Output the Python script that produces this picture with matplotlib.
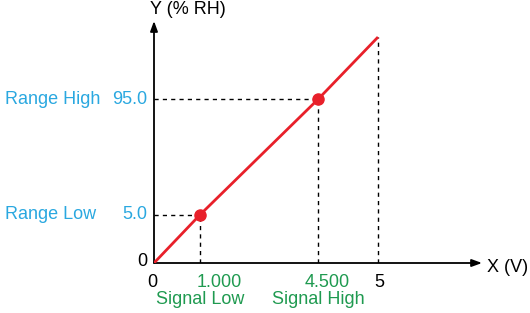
import numpy as np
import matplotlib
matplotlib.use("Agg")
import matplotlib.pyplot as plt

plt.rcParams['font.family'] = ['Liberation Sans', 'DejaVu Sans']

# ---- data ----
signal_v = [0.0, 1.0, 4.5, 5.0]          # X (V)
rh_pct = [0.0, 5.0, 95.0, 100.0]         # Y (% RH)
signal_low, signal_high = 1.0, 4.5
range_low, range_high = 5.0, 95.0
x_max_label = 5
x_tick_texts = ["1.000", "4.500"]
x_tick_names = ["Signal Low", "Signal High"]
y_tick_texts = ["5.0", "95.0"]
y_tick_names = ["Range Low", "Range High"]

# ---- schematic (piecewise-linear) scales ----
XK = [0.0, 1.0, 4.5, 5.0, 6.5]
XP = [0.0, 46.0, 164.0, 224.0, 328.0]
YK = [0.0, 5.0, 95.0, 100.0, 120.0]
YP = [0.0, 48.0, 163.0, 225.0, 241.0]

def fx(x): return np.interp(x, XK, XP)
def ix(p): return np.interp(p, XP, XK)
def fy(y): return np.interp(y, YK, YP)
def iy(p): return np.interp(p, YP, YK)

W, H = 530, 313
fig = plt.figure(figsize=(W / 100, H / 100), dpi=100)
ox, oy = 154, 263
ax = fig.add_axes([ox / W, (H - oy) / H, 328 / W, 242 / H])
ax.set_xscale('function', functions=(fx, ix))
ax.set_yscale('function', functions=(fy, iy))
ax.set_xlim(XK[0], XK[-1])
ax.set_ylim(YK[0], YK[-1])
for s in ax.spines.values():
    s.set_visible(False)
ax.set_xticks([])
ax.set_yticks([])
ax.patch.set_alpha(0)

# axes arrows
arrow = dict(arrowstyle='-|>,head_length=0.6,head_width=0.22', color='black', lw=1.3,
             shrinkA=0, shrinkB=0)
ax.annotate('', xy=(1, 0), xytext=(0, 0), xycoords='axes fraction', arrowprops=arrow)
ax.annotate('', xy=(0, 1), xytext=(0, 0), xycoords='axes fraction', arrowprops=arrow)

# dashed guides
dash = dict(color='black', lw=1.0, linestyle=(0, (3, 3)))
ax.plot([0, signal_low], [range_low, range_low], **dash)
ax.plot([0, signal_high], [range_high, range_high], **dash)
ax.plot([signal_low, signal_low], [0, range_low], **dash)
ax.plot([signal_high, signal_high], [0, range_high], **dash)
ax.plot([signal_v[-1], signal_v[-1]], [0, rh_pct[-1]], **dash)

# red transfer line and points
red = '#E8202A'
ax.plot(signal_v, rh_pct, color=red, lw=2.0, solid_capstyle='butt', zorder=3)
ax.plot([signal_low, signal_high], [range_low, range_high], 'o', color=red,
        ms=8, zorder=4)

blue = '#2AA8E0'
green = '#1F9A50'
fs = 13

# y labels
for v, t, n in zip([range_low, range_high], y_tick_texts, y_tick_names):
    ax.annotate(t, xy=(0, v), xytext=(-7, 0), textcoords='offset pixels',
                ha='right', va='center', color=blue, fontsize=fs)
    ax.annotate(n, xy=(0, v), xytext=(-149, 0), textcoords='offset pixels',
                ha='left', va='center', color=blue, fontsize=fs)
ax.annotate('0', xy=(0, 0), xytext=(-7, 1), textcoords='offset pixels',
            ha='right', va='center', color='black', fontsize=fs)

# x labels
ax.annotate('0', xy=(0, 0), xytext=(-2, -11), textcoords='offset pixels',
            ha='center', va='top', color='black', fontsize=fs)
for v, t, n, dx in zip([signal_low, signal_high], x_tick_texts, x_tick_names, [19, 9]):
    ax.annotate(t, xy=(v, 0), xytext=(dx, -11), textcoords='offset pixels',
                ha='center', va='top', color=green, fontsize=fs)
    ax.annotate(n, xy=(v, 0), xytext=(0, -28), textcoords='offset pixels',
                ha='center', va='top', color=green, fontsize=fs)
ax.annotate(str(x_max_label), xy=(x_max_label, 0), xytext=(1, -11),
            textcoords='offset pixels', ha='center', va='top', color='black', fontsize=fs)

# axis titles
ax.annotate('X (V)', xy=(1, 0), xycoords='axes fraction', xytext=(5, -4),
            textcoords='offset pixels', ha='left', va='center', fontsize=fs)
ax.annotate('Y (% RH)', xy=(0, 1), xycoords='axes fraction', xytext=(34, 3),
            textcoords='offset pixels', ha='center', va='bottom', fontsize=fs)

fig.savefig('out.png', dpi=100)
